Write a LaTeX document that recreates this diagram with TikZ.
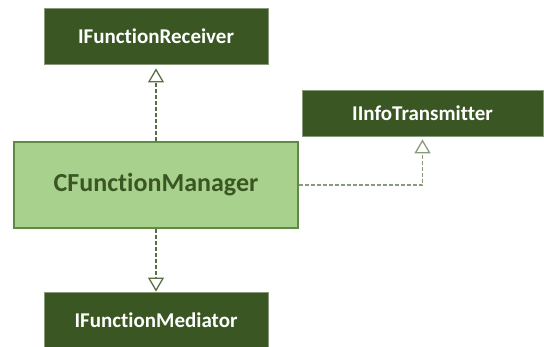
\documentclass[tikz,border=0pt]{standalone}
\usepackage{fontspec}
\setmainfont{Carlito}[Ligatures=NoCommon]
\definecolor{mDarkGreen}{HTML}{3A5723}
\definecolor{mLightGreen}{HTML}{A9D18E}
\definecolor{mEdgeGreen}{HTML}{5E8A45}
\usetikzlibrary{arrows.meta, positioning}

\begin{document}
\begin{tikzpicture}[x=1pt, y=-1pt,
		iface/.style={rectangle, draw=mDarkGreen!60, line width=0.8pt, fill=mDarkGreen,
			text=white, font=\fontsize{21}{24}\selectfont\bfseries,
			inner sep=0pt, minimum width=224pt, minimum height=56pt},
		cls/.style={rectangle, draw=mEdgeGreen, line width=1.2pt, fill=mLightGreen,
			text=mDarkGreen, font=\fontsize{26}{30}\selectfont\bfseries,
			inner sep=0pt, minimum width=284pt, minimum height=86pt},
		real/.style={draw=mDarkGreen!85, line width=1.3pt, dash pattern=on 4pt off 2pt,
			-{Triangle[open, width=16pt, length=14pt, line width=1.3pt]}}]
		%-------------------------------------------------------------------------------
		% frame
		%-------------------------------------------------------------------------------
		\useasboundingbox (0,0) rectangle (544,347);
		\clip (0,0) rectangle (544,347);
		
		% boxes
		\node[iface] (recv) at (156,36) {IFunctionReceiver};
		\node[iface, minimum width=241pt, minimum height=46pt] (trans) 
			at (422.5,113) {IInfoTransmitter};
		\node[cls] (mgr) at (156,185) {CFunctionManager};
		\node[iface] (med) at (156,320) {IFunctionMediator};
		
		% realizations
		\draw[real, shorten >=4pt] (mgr) -- (recv);
		\draw[real, draw=mDarkGreen!60, shorten >=3pt] (mgr.east) -| (trans);
		\draw[real] (mgr) -- (med);
		\end{tikzpicture}
\end{document}
